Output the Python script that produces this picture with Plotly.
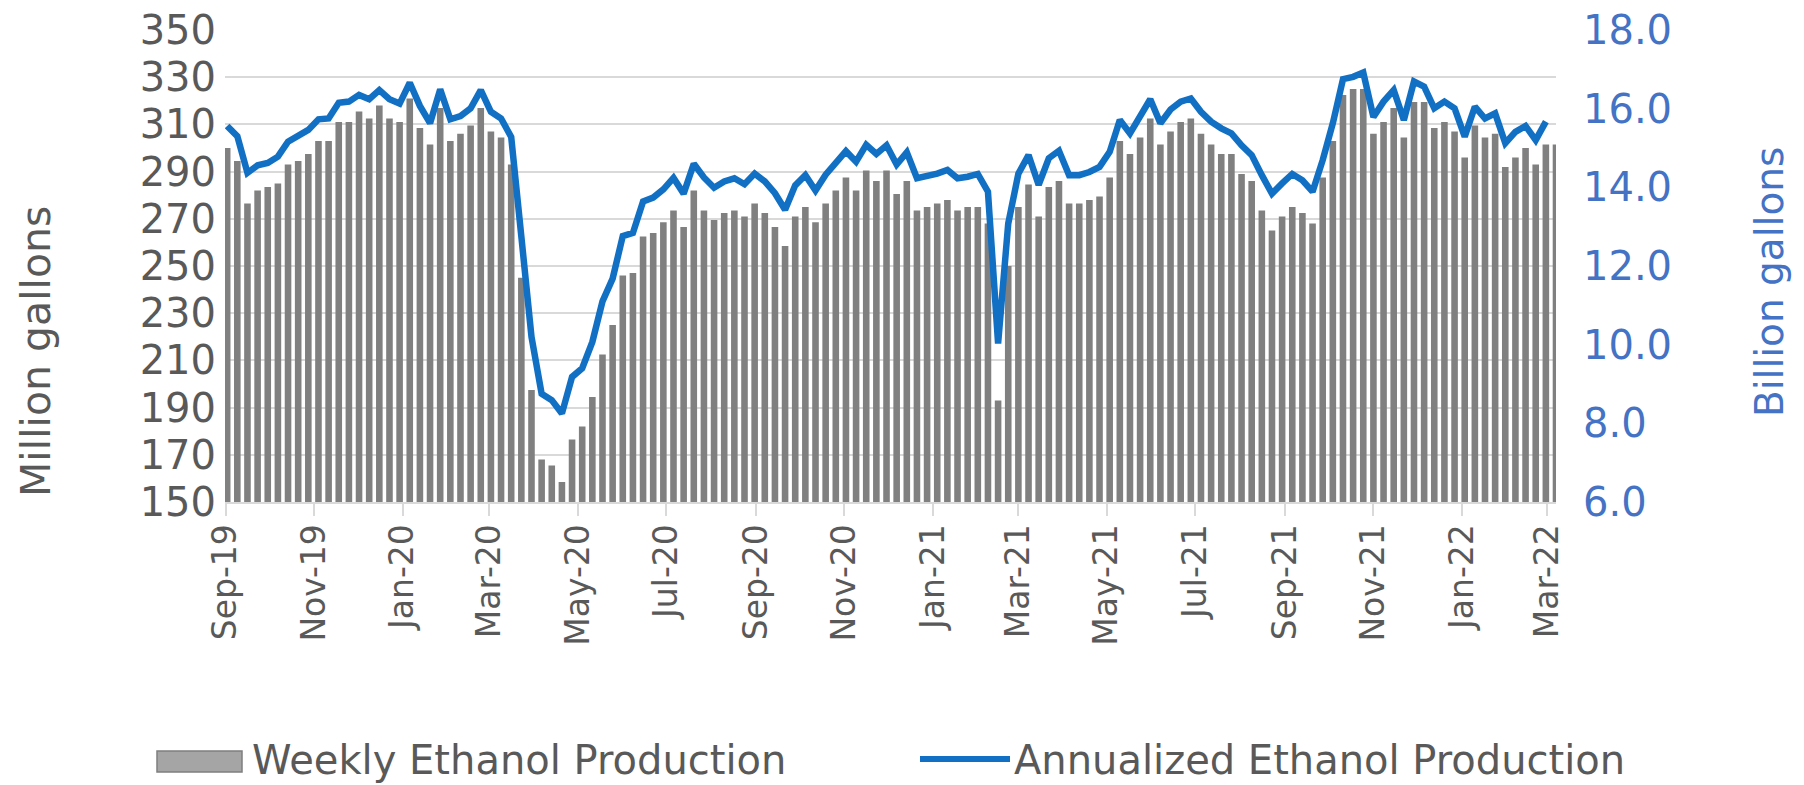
import pandas as pd
import plotly.graph_objects as go

# ---------------- data ----------------
weeks = pd.date_range("2019-09-02", periods=132, freq="7D")

weekly_production = [  # million gallons
    300, 294.5, 276.5, 282, 283.5, 285, 293, 294.5, 297.5, 303,
    303, 311, 311, 315.5, 312.5, 318, 312.5, 311, 321, 308.5,
    301.5, 317, 303, 306, 309.5, 317, 307, 304.5, 293, 245,
    197.5, 168, 165.5, 158.5, 176.5, 182, 194.5, 212.5, 225, 246,
    247, 262.5, 264, 268.5, 273.5, 266.5, 282, 273.5, 269.5, 272.5,
    273.5, 271, 276.5, 272.5, 266.5, 258.5, 271, 275, 268.5, 276.5,
    282, 287.5, 282, 290.5, 286, 290.5, 280.5, 286, 273.5, 275,
    276.5, 278, 273.5, 275, 275, 268, 193, 250, 275, 284.5,
    271, 283.5, 286, 276.5, 276.5, 278, 279.5, 287.5, 303, 297.5,
    304.5, 312.5, 301.5, 307, 311, 312.5, 306, 301.5, 297.5, 297.5,
    289, 286, 273.5, 265, 271, 275, 272.5, 268, 287.5, 303,
    322.5, 325, 325, 306, 311, 317, 304.5, 319.5, 319.5, 308.5,
    311, 307, 296, 309.5, 304.5, 306, 292, 296, 300, 293,
    301.5, 301.5,
]

annualized_production = [  # billion gallons
    15.56, 15.30, 14.37, 14.56, 14.62, 14.78, 15.16, 15.30, 15.46, 15.73,
    15.75, 16.15, 16.18, 16.35, 16.24, 16.47, 16.24, 16.13, 16.66, 16.07,
    15.63, 16.49, 15.73, 15.81, 16.01, 16.47, 15.92, 15.75, 15.28, 12.75,
    10.20, 8.75, 8.59, 8.25, 9.18, 9.40, 10.07, 11.10, 11.68, 12.76,
    12.84, 13.64, 13.74, 13.95, 14.24, 13.84, 14.60, 14.25, 13.99, 14.15,
    14.23, 14.08, 14.35, 14.15, 13.85, 13.43, 14.05, 14.31, 13.92, 14.32,
    14.65, 14.92, 14.65, 15.08, 14.85, 15.07, 14.58, 14.89, 14.23, 14.27,
    14.35, 14.44, 14.23, 14.27, 14.34, 13.89, 10.03, 13.08, 14.35, 14.82,
    14.06, 14.74, 14.93, 14.31, 14.31, 14.39, 14.52, 14.90, 15.71, 15.37,
    15.79, 16.24, 15.63, 15.98, 16.18, 16.26, 15.92, 15.67, 15.50, 15.37,
    15.07, 14.82, 14.31, 13.84, 14.10, 14.34, 14.18, 13.89, 14.69, 15.63,
    16.75, 16.81, 16.92, 15.79, 16.18, 16.47, 15.71, 16.69, 16.56, 16.01,
    16.18, 16.01, 15.29, 16.05, 15.75, 15.88, 15.12, 15.41, 15.56, 15.20,
    15.67, None,
]

tick_dates = ["2019-09-01", "2019-11-01", "2020-01-01", "2020-03-01",
              "2020-05-01", "2020-07-01", "2020-09-01", "2020-11-01",
              "2021-01-01", "2021-03-01", "2021-05-01", "2021-07-01",
              "2021-09-01", "2021-11-01", "2022-01-01", "2022-03-01"]
tick_labels = ["Sep-19", "Nov-19", "Jan-20", "Mar-20", "May-20", "Jul-20",
               "Sep-20", "Nov-20", "Jan-21", "Mar-21", "May-21", "Jul-21",
               "Sep-21", "Nov-21", "Jan-22", "Mar-22"]
left_ticks = [150, 170, 190, 210, 230, 250, 270, 290, 310, 330, 350]
right_ticks = [6, 8, 10, 12, 14, 16, 18]

series_names = ["Weekly Ethanol Production", "Annualized Ethanol Production"]
axis_titles = ["Million gallons", "Billion gallons"]

# ---------------- styling ----------------
FONT = "DejaVu Sans"
GRAY_TXT = "#595959"
BLUE_TXT = "#4472C4"
BAR_COL = "#808080"
LINE_COL = "#1170C4"
GRID = "#D9D9D9"

W, H = 1804, 785
PL, PR, PT, PB = 225, 1556, 30, 502


def px(x):
    return (x - PL) / (PR - PL)


def py(y):
    return (PB - y) / (PB - PT)


fig = go.Figure()
fig.add_trace(go.Bar(x=weeks, y=weekly_production, marker_color=BAR_COL,
                     marker_line_width=0, name=series_names[0],
                     showlegend=False))
fig.add_trace(go.Scatter(x=weeks, y=annualized_production, mode="lines",
                         line=dict(color=LINE_COL, width=6.5),
                         name=series_names[1], yaxis="y2",
                         showlegend=False))

fig.update_layout(
    width=W, height=H,
    margin=dict(l=PL, r=W - PR, t=PT, b=H - PB, pad=0, autoexpand=False),
    paper_bgcolor="white", plot_bgcolor="white",
    bargap=0.35,
    font=dict(family=FONT, color=GRAY_TXT),
    xaxis=dict(
        type="date", range=["2019-08-31 12:00", "2022-03-07"],
        tickvals=tick_dates, ticktext=tick_labels, tickangle=-90,
        ticks="outside", ticklen=12, tickwidth=2, tickcolor=GRID,
        showline=True, linecolor=GRID, linewidth=2, showgrid=False,
        tickfont=dict(size=33, color=GRAY_TXT, family=FONT),
        ticklabelstandoff=-5, automargin=False,
    ),
    yaxis=dict(
        range=[150, 350], tickvals=left_ticks, showgrid=True,
        gridcolor=GRID, gridwidth=2, zeroline=False, showline=False,
        ticks="", tickfont=dict(size=40, color=GRAY_TXT, family=FONT),
        ticklabelstandoff=8, automargin=False,
    ),
    yaxis2=dict(
        range=[6, 18], tickvals=right_ticks, tickformat=".1f",
        overlaying="y", side="right", showgrid=False, zeroline=False,
        showline=False, ticks="",
        tickfont=dict(size=40, color=BLUE_TXT, family=FONT),
        ticklabelstandoff=26, automargin=False,
    ),
)

annotations = [
    dict(text=axis_titles[0], x=px(36), y=py(352), xref="paper", yref="paper",
         textangle=-90, showarrow=False, xanchor="center", yanchor="middle",
         font=dict(size=41, color=GRAY_TXT, family=FONT)),
    dict(text=axis_titles[1], x=px(1769), y=py(282), xref="paper", yref="paper",
         textangle=-90, showarrow=False, xanchor="center", yanchor="middle",
         font=dict(size=39, color=BLUE_TXT, family=FONT)),
    dict(text=series_names[0], x=px(250), y=py(760), xref="paper", yref="paper",
         showarrow=False, xanchor="left", yanchor="middle",
         font=dict(size=40, color=GRAY_TXT, family=FONT)),
    dict(text=series_names[1], x=px(1012), y=py(760), xref="paper", yref="paper",
         showarrow=False, xanchor="left", yanchor="middle",
         font=dict(size=40, color=GRAY_TXT, family=FONT)),
]
shapes = [
    dict(type="rect", xref="paper", yref="paper",
         x0=px(157), x1=px(242), y0=py(772), y1=py(751),
         fillcolor="#A5A5A5", line=dict(color="#7F7F7F", width=1.5)),
    dict(type="line", xref="paper", yref="paper",
         x0=px(920), x1=px(1010), y0=py(759), y1=py(759),
         line=dict(color=LINE_COL, width=6)),
]
fig.update_layout(annotations=annotations, shapes=shapes)

fig.write_html("out.html",
               config={"displayModeBar": False},
               post_script="document.body.style.margin='0px';")
